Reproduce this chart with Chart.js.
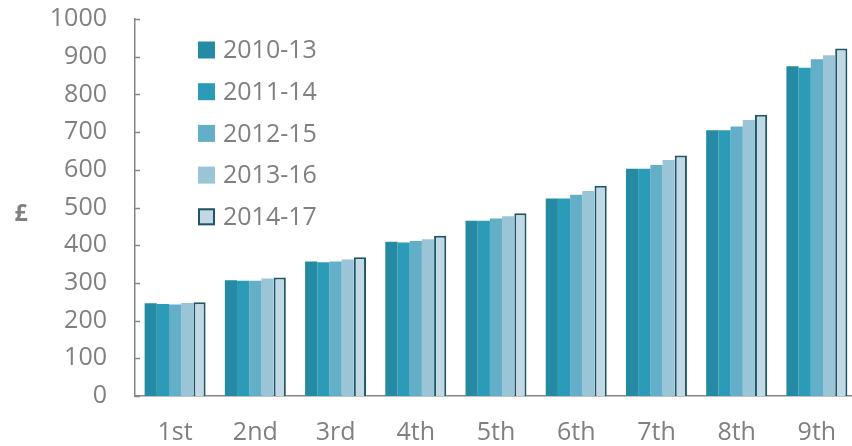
<!DOCTYPE html>
<html>
<head>
<meta charset="utf-8">
<script src="https://cdn.jsdelivr.net/npm/chart.js@4/dist/chart.umd.min.js"></script>
<style>
  html, body { margin: 0; padding: 0; background: #fff; overflow: hidden; }
  #wrap { width: 860px; height: 446px; }
</style>
</head>
<body>
<div id="wrap"><canvas id="chart"></canvas></div>
<script>
// Data
const deciles = ["1st", "2nd", "3rd", "4th", "5th", "6th", "7th", "8th", "9th"];
const periods = ["2010-13", "2011-14", "2012-15", "2013-16", "2014-17"];
const v2010 = [246, 307, 357, 409, 465, 524, 603, 705, 875];
const v2011 = [244, 306, 355, 407, 465, 524, 603, 705, 871];
const v2012 = [243, 306, 357, 411, 471, 534, 613, 715, 893];
const v2013 = [247, 312, 362, 416, 477, 544, 626, 732, 904];
const v2014 = [249, 314, 368, 425, 485, 558, 638, 746, 922];
const yTicks = [0, 100, 200, 300, 400, 500, 600, 700, 800, 900, 1000];

const fills = ["#258aa3", "#2b9bb8", "#63afc7", "#9ac5d7", "#c1d9e4"];
const grey = "#808080";
const font = "'Open Sans', sans-serif";

// inward tick marks on the y axis, the £ label and the legend inside the plot
const extras = {
  id: "extras",
  afterDraw(chart) {
    const c = chart.ctx;
    const y = chart.scales.y;
    const area = chart.chartArea;
    c.save();
    c.strokeStyle = "#868686";
    c.lineWidth = 1.5;
    yTicks.forEach(t => {
      const py = Math.round(y.getPixelForValue(t)) + 0.5;
      c.beginPath();
      c.moveTo(area.left, py);
      c.lineTo(area.left + 5, py);
      c.stroke();
    });

    c.fillStyle = grey;
    c.font = "bold 23px " + font;
    c.textAlign = "center";
    c.textBaseline = "middle";
    c.fillText("£", 21, (area.top + area.bottom) / 2 + 7);

    c.font = "25px " + font;
    c.textAlign = "left";
    chart.data.datasets.forEach((ds, i) => {
      const cy = area.top + 31 + i * 41.7;
      const bx = area.left + 63;
      c.fillStyle = ds.backgroundColor;
      c.fillRect(bx, cy - 8.5, 17, 17);
      if (ds.borderWidth) {
        c.strokeStyle = ds.borderColor;
        c.lineWidth = 2;
        c.strokeRect(bx + 1, cy - 7.5, 15, 15);
      }
      c.fillStyle = grey;
      c.fillText(ds.label, area.left + 88, cy + 1);
    });
    c.restore();
  }
};

const ctx = document.getElementById("chart").getContext("2d");
const chart = new Chart(ctx, {
  type: "bar",
  data: {
    labels: deciles,
    datasets: [
      { label: periods[0], data: v2010, backgroundColor: fills[0], borderWidth: 0 },
      { label: periods[1], data: v2011, backgroundColor: fills[1], borderWidth: 0 },
      { label: periods[2], data: v2012, backgroundColor: fills[2], borderWidth: 0 },
      { label: periods[3], data: v2013, backgroundColor: fills[3], borderWidth: 0 },
      { label: periods[4], data: v2014, backgroundColor: fills[4], borderColor: "#1f5566", borderWidth: 2 },
    ],
  },
  options: {
    responsive: true,
    maintainAspectRatio: false,
    animation: false,
    layout: { padding: { top: 19, right: 3, left: 0, bottom: 0 } },
    datasets: { bar: { categoryPercentage: 0.76, barPercentage: 1.0 } },
    plugins: {
      legend: { display: false },
      tooltip: { enabled: false },
    },
    scales: {
      x: {
        grid: { display: false, drawTicks: false },
        border: { display: true, color: "#868686", width: 1.5 },
        ticks: { color: grey, padding: 22, font: { family: font, size: 25 } },
        afterFit(scale) { scale.height = 50; scale.paddingLeft = 0; scale.paddingRight = 0; },
      },
      y: {
        min: 0,
        max: 1000,
        afterBuildTicks(scale) { scale.ticks = yTicks.map(v => ({ value: v })); },
        grid: { display: false, drawTicks: false },
        border: { display: true, color: "#868686", width: 1.5 },
        ticks: {
          color: grey,
          padding: 28,
          font: { family: font, size: 25 },
          callback: v => String(v),
        },
        afterFit(scale) { scale.width = 135; scale.paddingTop = 0; scale.paddingBottom = 0; },
      },
    },
  },
  plugins: [extras],
});
</script>
</body>
</html>
